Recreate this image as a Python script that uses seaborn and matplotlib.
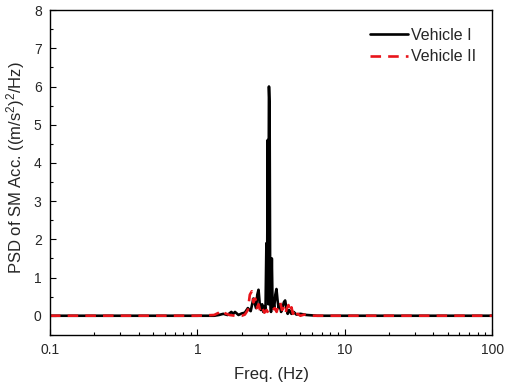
import matplotlib
matplotlib.use("Agg")
import matplotlib.pyplot as plt
import seaborn as sns
import pandas as pd
from matplotlib.ticker import FixedLocator, FixedFormatter, LogLocator, MultipleLocator, NullFormatter

# Vehicle I
freq_1 = [0.1, 0.5, 1.0, 1.3, 1.4, 1.5, 1.6, 1.7, 1.75, 1.8, 1.9, 2.0, 2.1, 2.2, 2.3, 2.4, 2.5, 2.55,
          2.6, 2.65, 2.7, 2.75, 2.8, 2.85, 2.9, 2.94, 2.97, 3.0, 3.03, 3.06, 3.09, 3.12, 3.16, 3.2,
          3.24, 3.28, 3.32, 3.38, 3.44, 3.5, 3.56, 3.62, 3.7, 3.78, 3.86, 3.94, 4.02, 4.1, 4.2, 4.35,
          4.5, 4.7, 5.0, 5.5, 6.5, 10, 100]
psd_1 = [0, 0, 0, 0, 0.02, 0.05, 0.02, 0.1, 0.05, 0.1, 0.02, 0.06, 0.08, 0.2, 0.12, 0.45, 0.2, 0.55,
         0.68, 0.3, 0.15, 0.3, 0.1, 0.25, 0.15, 1.9, 0.5, 4.6, 0.3, 6.0, 5.5, 0.5, 0.1, 1.5,
         0.2, 0.35, 0.2, 0.55, 0.7, 0.4, 0.2, 0.3, 0.1, 0.2, 0.35, 0.4, 0.2, 0.05, 0.15, 0.05,
         0.1, 0.03, 0.05, 0.02, 0, 0, 0]

# Vehicle II
freq_2 = [0.1, 1.0, 1.3, 1.4, 1.47, 1.55, 1.65, 1.8, 2.0, 2.1, 2.2, 2.27, 2.34, 2.4, 2.47, 2.53, 2.6,
          2.68, 2.76, 2.85, 2.95, 3.05, 3.15, 3.25, 3.35, 3.45, 3.55, 3.65, 3.75, 3.85, 3.95, 4.05,
          4.15, 4.25, 4.35, 4.45, 4.55, 4.65, 4.8, 5.0, 5.3, 5.8, 6.5, 10, 100]
psd_2 = [0, 0, 0.02, 0.08, 0.14, 0.06, 0.02, 0, 0, 0.03, 0.15, 0.55, 0.64, 0.35, 0.45, 0.2, 0.3,
         0.1, 0.2, 0.08, 0.15, 0.05, 0.1, 0.15, 0.2, 0.1, 0.3, 0.35, 0.15, 0.2, 0.05, 0.2,
         0.28, 0.1, 0.22, 0.05, 0.15, 0.03, 0.05, 0, 0.03, 0, 0, 0, 0]

x_ticks = [0.1, 1, 10, 100]
x_tick_labels = ["0.1", "1", "10", "100"]
y_ticks = [0, 1, 2, 3, 4, 5, 6, 7, 8]

sns.set_style("ticks")
plt.rcParams["font.family"] = ["Liberation Sans", "DejaVu Sans"]
plt.rcParams["mathtext.default"] = "regular"
plt.rcParams["mathtext.fontset"] = "custom"
plt.rcParams["mathtext.rm"] = "Liberation Sans"

fig = plt.figure(figsize=(5.1, 3.88), dpi=100)
ax = fig.add_axes([0.098, 0.137, 0.867, 0.837])

df1 = pd.DataFrame({"f": freq_1, "p": psd_1})
df2 = pd.DataFrame({"f": freq_2, "p": psd_2})
sns.lineplot(data=df1, x="f", y="p", ax=ax, color="black", lw=1.9, label="Vehicle I")
sns.lineplot(data=df2, x="f", y="p", ax=ax, color="#e8141a", lw=1.9, label="Vehicle II",
             linestyle=(0, (4, 2.7)))

ax.set_xscale("log")
ax.set_xlim(0.1, 100)
ax.set_ylim(-0.5, 8)
ax.xaxis.set_major_locator(FixedLocator(x_ticks))
ax.xaxis.set_major_formatter(FixedFormatter(x_tick_labels))
ax.xaxis.set_minor_locator(LogLocator(base=10, subs=range(2, 10)))
ax.xaxis.set_minor_formatter(NullFormatter())
ax.yaxis.set_major_locator(FixedLocator(y_ticks))
ax.yaxis.set_minor_locator(MultipleLocator(0.5))

ax.tick_params(which="both", direction="in", color="black", labelsize=10, pad=6)
ax.tick_params(which="major", length=4, width=0.8)
ax.tick_params(which="minor", length=2.5, width=0.8)
for s in ax.spines.values():
    s.set_color("black")
    s.set_linewidth(1.0)

ax.set_xlabel("Freq. (Hz)", fontsize=12, labelpad=7)
ax.set_ylabel("PSD of SM Acc. ((m/s$^{2}$)$^{2}$/Hz)", fontsize=12, labelpad=7)
ax.yaxis.set_label_coords(-0.052, 0.515)

leg = ax.legend(loc="upper right", bbox_to_anchor=(0.997, 0.99), frameon=False, fontsize=11.5,
                handlelength=2.4, handletextpad=0.2, labelspacing=0.4)

fig.savefig("out.png", dpi=100)
